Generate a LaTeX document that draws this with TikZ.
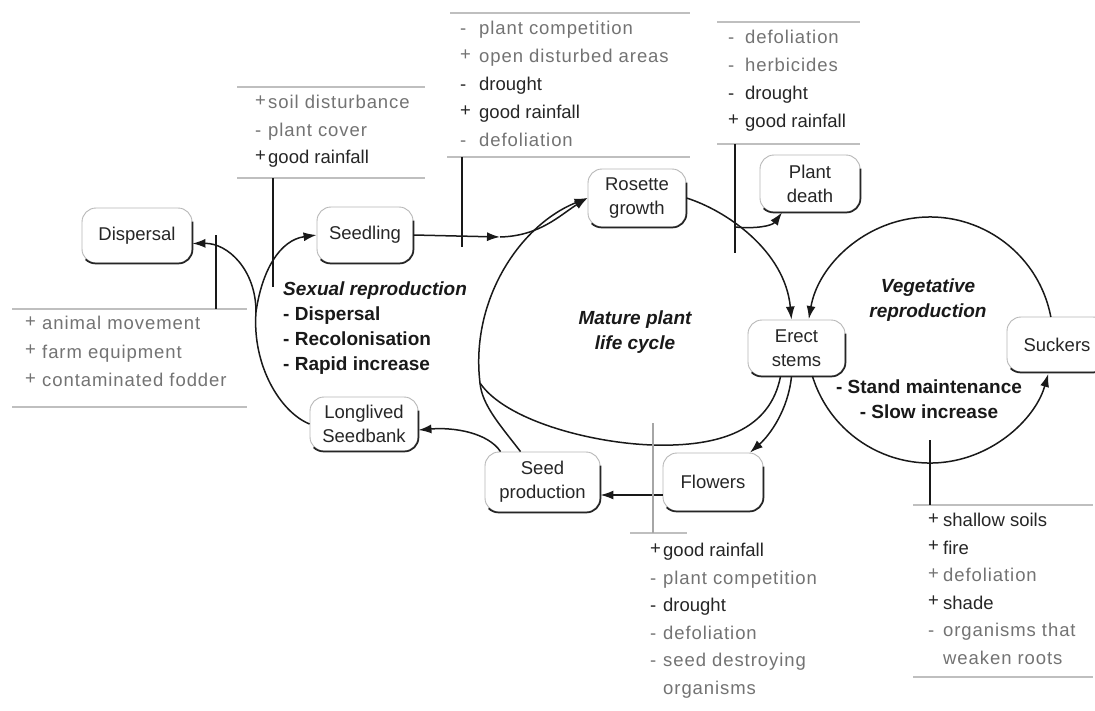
\documentclass[tikz,border=0pt]{standalone}
\usepackage{fontspec}
\setmainfont{Liberation Sans}
\newfontfamily\spc{Liberation Sans}[LetterSpace=5]
\usetikzlibrary{arrows.meta}
% raised plus sign used in the factor lists
\newcommand\pl{\raisebox{2.5pt}{+}}
\newcommand\mi{-}
% one list of influencing factors: prefix, sign x, sign width, first centre y, spacing, entries
\newcommand\factorlist[6]{%
  \foreach \s/\t/\c [count=\i] in {#6} {
    \node[fac,\c] (#1\i) at (#2, {-(#4)-6.5-(#5)*(\i-1)}) {\makebox[#3pt][l]{\s}\t};
  }}
\begin{document}
\begin{tikzpicture}[x=1pt,y=1pt,
  box/.style={draw=black!28, line width=0.9pt, rounded corners=14pt, inner sep=0pt,
              align=center, text=black!85, font=\fontsize{18.5}{24}\selectfont},
  edge/.style={black!85, line width=1.7pt},
  flowline/.style={black!90, line width=1.5pt},
  arr/.style={flowline, -{Latex[length=13pt,width=9pt]}},
  tick/.style={black!90, line width=1.7pt},
  rule/.style={black!25, line width=1.2pt},
  fac/.style={anchor=base west, inner sep=0pt, font=\fontsize{18.5}{22}\selectfont},
  g/.style={font=\spc\fontsize{18.5}{22}\selectfont, text=black!55},
  k/.style={text=black!85},
  note/.style={font=\bfseries\fontsize{19}{25}\selectfont, text=black!90, inner sep=0pt},
  headnote/.style={note, font=\bfseries\itshape\fontsize{19}{25}\selectfont},
  ]
\useasboundingbox (0,0) rectangle (1095,-710);
\fill[white] (0,0) rectangle (1095,-710);
\clip (0,0) rectangle (1095,-710);

% ---- stages -------------------------------------------------------------
\node[box, minimum width=110pt, minimum height=55pt] (disp)  at (137,-235.5) {Dispersal};
\node[box, minimum width=96pt,  minimum height=56pt] (seedl) at (365,-235)   {Seedling};
\node[box, minimum width=98pt,  minimum height=58pt] (ros)   at (637,-198)   {Rosette\\growth};
\node[box, minimum width=100pt, minimum height=57pt] (death) at (810,-183.5) {Plant\\death};
\node[box, minimum width=97pt,  minimum height=56pt] (erect) at (796.5,-348) {Erect\\stems};
\node[box, minimum width=100pt, minimum height=55pt] (suck)  at (1057,-344.5) {Suckers};
\node[box, minimum width=108pt, minimum height=54pt] (bank)  at (364,-424)   {Longlived\\Seedbank};
\node[box, minimum width=115pt, minimum height=60pt] (seedp) at (542.5,-482) {Seed\\production};
\node[box, minimum width=100pt, minimum height=58pt] (flw)   at (713,-482)   {Flowers};

% darker lower-right edge of every stage box
\foreach \n in {disp,seedl,ros,death,erect,suck,bank,seedp,flw}
  \draw[edge] ([yshift=-14pt]\n.north east) -- ([yshift=14pt]\n.south east)
     arc[start angle=0,end angle=-90,radius=14pt] -- ([xshift=14pt]\n.south west)
     arc[start angle=270,end angle=225,radius=14pt];

% ---- sexual reproduction ------------------------------------------------
\coordinate (sp) at (256,-312);
\draw[flowline] (bank.west) .. controls (280,-412) and (252,-365) .. (sp);
\draw[arr] (sp) .. controls (256,-270) and (228,-243) .. ([yshift=-8pt]disp.east);
\draw[arr] (sp) .. controls (262,-270) and (280,-240) .. (seedl.west);
\draw[arr] ([xshift=-42pt]seedp.north) .. controls (488,-433) and (455,-427) .. ([yshift=-6pt]bank.east);

% ---- mature plant life cycle ---------------------------------------------
\coordinate (sa) at (500,-237);
\draw[arr] (seedl.east) -- (sa);
\draw[arr] (sa) .. controls (540,-236) and (560,-215) .. (ros.west);
\draw[arr] (ros.east) .. controls (725,-210) and (785,-250) .. ([xshift=-5pt]erect.north);
\coordinate (pd) at (735,-227);
\draw[arr] (pd) .. controls (755,-229) and (772,-226) .. ([xshift=-28pt]death.south);
\coordinate (lp1) at (653,-445);
\coordinate (lp2) at (480,-383);
\draw[arr] ([xshift=-16pt]erect.south) .. controls (770,-430) and (720,-447) .. (lp1)
   .. controls (590,-443) and (505,-420) .. (lp2)
   .. controls (470,-300) and (520,-225) .. (ros.west);
\draw[flowline] ([xshift=-22pt]seedp.north) .. controls (500,-425) and (482,-405) .. (lp2);
\draw[arr] ([xshift=-5pt]erect.south) .. controls (788,-410) and (770,-435) .. ([xshift=37pt]flw.north);
\draw[arr] ([yshift=-13pt]flw.west) -- ([yshift=-13pt]seedp.east);

% ---- vegetative reproduction ---------------------------------------------
\coordinate (vc) at (930,-340);
\draw[arr] ([shift={(10.8:123pt)}]vc) arc[start angle=10.8,end angle=170.2,radius=123pt];
\draw[arr] ([shift={(197:123pt)}]vc) arc[start angle=197,end angle=344,radius=123pt];

% ---- factor lists: rules and ticks ----------------------------------------
\draw[rule] (237,-87) -- (425,-87);   \draw[rule] (237,-178) -- (425,-178);
\draw[rule] (450,-13) -- (690,-13);   \draw[rule] (447,-157) -- (690,-157);
\draw[rule] (717,-22) -- (860,-22);   \draw[rule] (717,-144) -- (860,-144);
\draw[rule] (12,-309) -- (247,-309);  \draw[rule] (12,-407) -- (247,-407);
\draw[rule] (630,-533) -- (687,-533);
\draw[rule] (913,-505) -- (1093,-505); \draw[rule] (913,-677) -- (1093,-677);

\draw[tick] (216,-235) -- (216,-309);
\draw[tick] (273,-178) -- (273,-287);
\draw[tick] (462,-157) -- (462,-247);
\draw[tick] (735,-144) -- (735,-253);
\draw[tick] (930,-440) -- (930,-505);
\draw[black!35, line width=1.4pt] (653,-423) -- (653,-533);

% ---- factor lists: entries ----------------------------------------------
\factorlist{tl}{255}{13}{102}{27.5}{\pl/soil disturbance/g, \mi/plant cover/g, \pl/good rainfall/k}
\factorlist{tc}{460}{19}{28}{28}{\mi/plant competition/g, \pl/open disturbed areas/g, \mi/drought/k, \pl/good rainfall/k, \mi/defoliation/g}
\factorlist{tr}{728}{17}{37}{28}{\mi/defoliation/g, \mi/herbicides/g, \mi/drought/k, \pl/good rainfall/k}
\factorlist{lb}{25}{17}{323}{28.5}{\pl/animal movement/g, \pl/farm equipment/g, \pl/contaminated fodder/g}
\factorlist{bc}{650}{13}{550}{27.6}{\pl/good rainfall/k, \mi/plant competition/g, \mi/drought/k, \mi/defoliation/g, \mi/seed destroying/g, {}/organisms/g}
\factorlist{rb}{928}{15}{520}{27.6}{\pl/shallow soils/k, \pl/fire/k, \pl/defoliation/g, \pl/shade/k, \mi/organisms that/g, {}/weaken roots/g}

% ---- annotations ----------------------------------------------------------
\node[headnote, anchor=base west] (sexh) at (283,-295) {Sexual reproduction};
\node[note, anchor=base west] (sex1) at (283,-320) {- Dispersal};
\node[note, anchor=base west] (sex2) at (283,-345) {- Recolonisation};
\node[note, anchor=base west] (sex3) at (283,-370) {- Rapid increase};
\node[headnote, align=center] (mat) at (635,-332) {Mature plant\\life cycle};
\node[headnote, align=center] (vegh) at (928,-300) {Vegetative\\reproduction};
\node[note, align=center] (veg) at (929,-399) {- Stand maintenance\\- Slow increase};
\end{tikzpicture}
\end{document}
